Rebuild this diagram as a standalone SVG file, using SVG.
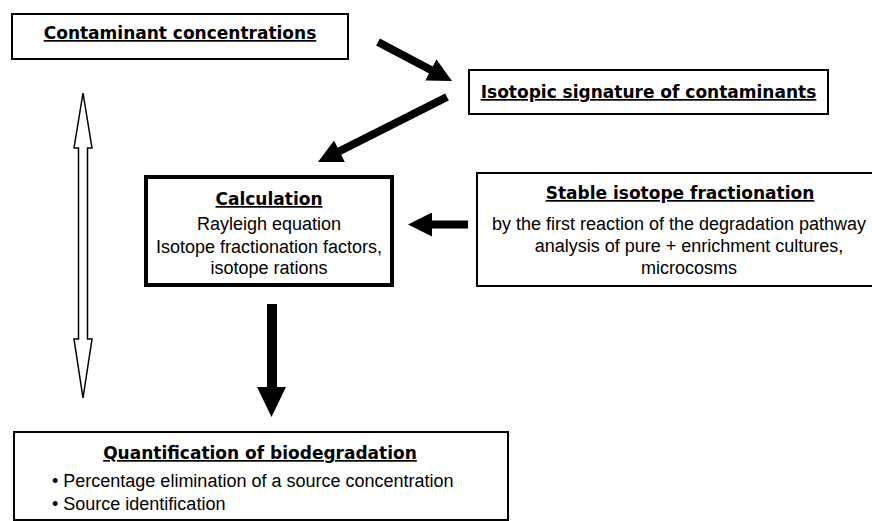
<svg xmlns="http://www.w3.org/2000/svg" width="872" height="521" viewBox="0 0 872 521">
<style>
.box{fill:#fff;stroke:#000;stroke-width:2}
.thick{fill:#fff;stroke:#000;stroke-width:4}
.h{font-family:"DejaVu Sans","Liberation Sans",sans-serif;font-weight:bold;font-size:17px;text-decoration:underline;fill:#000;text-anchor:middle}
.t{font-family:"Liberation Sans",Arial,sans-serif;font-size:18px;fill:#000;text-anchor:middle}
.b{font-family:"Liberation Sans",Arial,sans-serif;font-size:18px;fill:#000}
.ar{stroke:#000;stroke-width:8;fill:none}
</style>
<defs>
<marker id="head" viewBox="0 0 24 24" markerWidth="24" markerHeight="24" markerUnits="userSpaceOnUse" refX="4" refY="12" orient="auto">
<path d="M0,0 L24,12 L0,24 Z" fill="#000"/>
</marker>
</defs>
<rect width="872" height="521" fill="#fff"/>
<g id="connectors">
<line class="ar" x1="378" y1="42" x2="434.3" y2="71.7" stroke-width="7" marker-end="url(#head)"/>
<line class="ar" x1="447" y1="97" x2="335.9" y2="153" marker-end="url(#head)"/>
<line class="ar" x1="468" y1="224.5" x2="428" y2="224.5" stroke-width="7" marker-end="url(#head)"/>
<rect x="267" y="304" width="10" height="84" fill="#000"/>
<polygon points="257,387 286,387 271.5,417" fill="#000"/>
<path d="M83,93 L92,148 L87.5,148 L87.5,339 L92,339 L83,398 L74,339 L78.5,339 L78.5,148 L74,148 Z" fill="#fff" stroke="#000" stroke-width="1.5" stroke-linejoin="miter"/>
</g>
<g id="contaminant-concentrations">
<rect class="box" x="12" y="14" width="336" height="45"/>
<text class="h" x="180" y="39">Contaminant concentrations</text>
</g>
<g id="isotopic-signature">
<rect class="box" x="469" y="70" width="359" height="44"/>
<text class="h" x="648.5" y="98">Isotopic signature of contaminants</text>
</g>
<g id="calculation">
<rect class="thick" x="146" y="177" width="246" height="108"/>
<text class="h" x="269" y="205">Calculation</text>
<text class="t" x="269" y="230">Rayleigh equation</text>
<text class="t" x="269" y="253">Isotope fractionation factors,</text>
<text class="t" x="269" y="274">isotope rations</text>
</g>
<g id="stable-isotope-fractionation">
<rect class="box" x="477" y="173" width="420" height="113"/>
<text class="h" x="680" y="199">Stable isotope fractionation</text>
<text class="t" x="679" y="230">by the first reaction of the degradation pathway</text>
<text class="t" x="689" y="252">analysis of pure + enrichment cultures,</text>
<text class="t" x="689" y="274">microcosms</text>
</g>
<g id="quantification">
<rect class="box" x="14" y="432" width="494" height="88"/>
<text class="h" x="260" y="459">Quantification of biodegradation</text>
<text class="b" x="52" y="487">• Percentage elimination of a source concentration</text>
<text class="b" x="52" y="510">• Source identification</text>
</g>
</svg>
